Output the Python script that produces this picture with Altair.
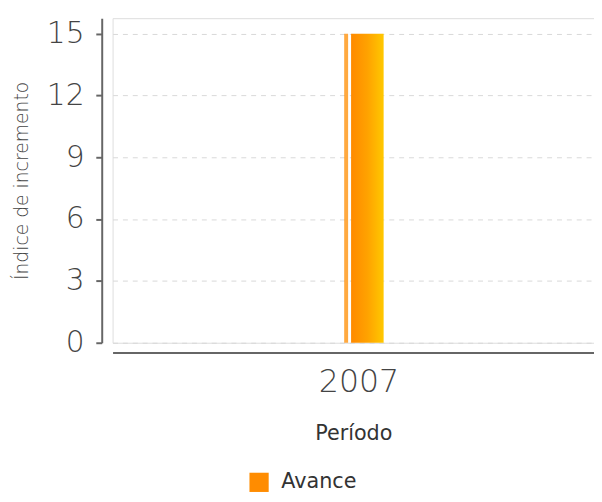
import altair as alt
import pandas as pd

periods = ["2007"]
values = [15]
series_name = ["Avance"]
y_ticks = [0, 3, 6, 9, 12, 15]

df = pd.DataFrame({"Período": periods, "valor": values, "serie": series_name * len(periods)})

x_enc = alt.X(
    "Período:N",
    title="Período",
    scale=alt.Scale(paddingInner=0, paddingOuter=0.72, align=0.52),
    axis=alt.Axis(
        offset=10, ticks=False, labelAngle=0, labelFontSize=32, labelColor="#444",
        labelPadding=14, labelFont="DejaVu Sans", labelFontWeight=300,
        titleFontSize=21, titleColor="#333", titleFont="DejaVu Sans", titleFontWeight="normal",
        titlePadding=26, domainColor="#666", domainWidth=2, grid=False,
    ),
)
y_enc = alt.Y(
    "valor:Q",
    title="Índice de incremento",
    scale=alt.Scale(domain=[0, 15.75], nice=False),
    axis=alt.Axis(
        values=y_ticks, offset=11, tickSize=6, tickColor="#666", tickWidth=2,
        labelFontSize=30, labelColor="#444", labelPadding=12, labelFont="DejaVu Sans",
        labelFontWeight=300,
        titleFontSize=19, titleColor="#444", titleFont="DejaVu Sans", titleFontWeight=300,
        titlePadding=15, domainColor="#666", domainWidth=2,
        grid=True, gridColor="#d8d8d8", gridDash=[5, 5], gridWidth=1,
    ),
)

thin = alt.Chart(df).mark_bar(size=4, xOffset=-13, opacity=0.75).encode(
    x=x_enc,
    y=y_enc,
    color=alt.Color(
        "serie:N",
        scale=alt.Scale(range=["#FF8C00"]),
        legend=alt.Legend(
            title=None, orient="none", legendX=138, legendY=460,
            symbolType="square", symbolSize=380, symbolStrokeWidth=0, symbolOpacity=1,
            labelFontSize=21, labelColor="#333", labelFont="DejaVu Sans", labelOffset=12,
        ),
    ),
)

main = alt.Chart(df).mark_bar(
    size=33,
    xOffset=8.5,
    fill=alt.Gradient(
        gradient="linear",
        x1=0, x2=1, y1=0, y2=0,
        stops=[
            alt.GradientStop(color="#FF8A00", offset=0),
            alt.GradientStop(color="#FFA200", offset=0.5),
            alt.GradientStop(color="#FFC800", offset=1),
        ],
    ),
).encode(x=x_enc, y=y_enc)

chart = alt.layer(thin, main).properties(
    width=488,
    height=329,
    autosize=alt.AutoSizeParams(type="none"),
    padding={"left": 106, "top": 7, "right": 0, "bottom": 150},
).configure_view(stroke="#666", strokeWidth=2).configure(background="white")

chart.save("out.html", embed_options={"renderer": "svg", "actions": False})
